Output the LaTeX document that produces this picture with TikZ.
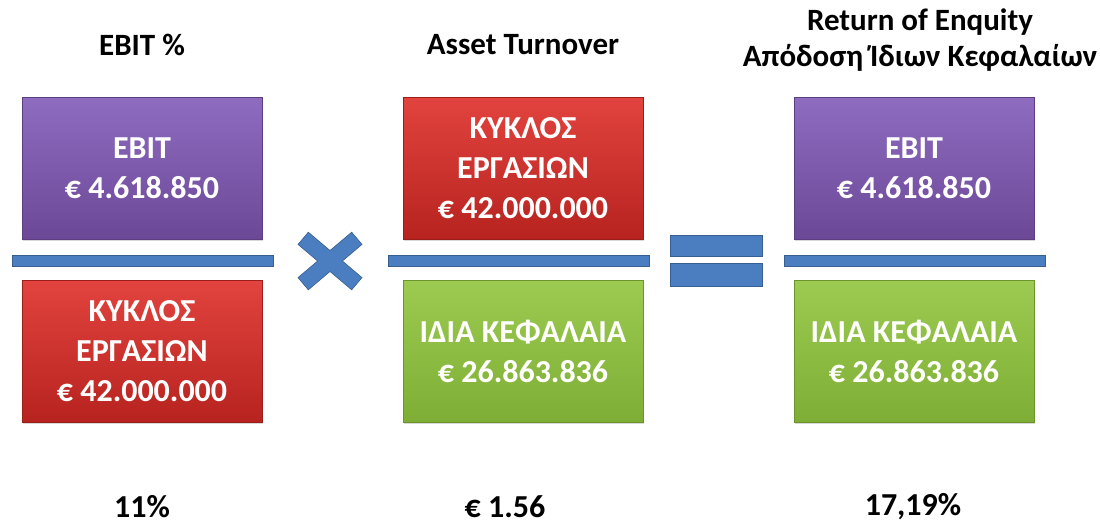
\documentclass[tikz,border=0pt]{standalone}
\usepackage{fontspec}
\setmainfont{Carlito}
\usetikzlibrary{positioning,shadows}

\definecolor{purpletop}{HTML}{8E6CC0}
\definecolor{purplebot}{HTML}{6C4897}
\definecolor{redtop}{HTML}{E2433E}
\definecolor{redbot}{HTML}{B7231F}
\definecolor{greentop}{HTML}{9DCB52}
\definecolor{greenbot}{HTML}{7EAE35}
\definecolor{barblue}{HTML}{4A7EC0}

\begin{document}
\begin{tikzpicture}[x=1pt, y=-1pt, node distance={183pt},
  box/.style = {minimum width=240pt, minimum height=142pt, inner sep=0pt, align=center, text=white,
    font=\fontsize{32}{40}\selectfont\bfseries, line width=0.6pt,
    drop shadow={opacity=0.3, shadow xshift=1pt, shadow yshift=-2pt}},
  purplebox/.style = {box, top color=purpletop, bottom color=purplebot, draw=purplebot!85!black},
  redbox/.style = {box, top color=redtop, bottom color=redbot, draw=redbot!85!black},
  greenbox/.style = {box, top color=greentop, bottom color=greenbot, draw=greenbot!85!black},
  bar/.style = {fill=barblue, draw=barblue!75!black, line width=0.6pt},
  title/.style = {font=\fontsize{31}{36}\selectfont\bfseries, align=center},
  result/.style = {font=\fontsize{32}{34}\selectfont\bfseries, inner sep=0pt}]
  \useasboundingbox (0,0) rectangle (1100,525);

  % titles
  \node[title] (t1) at (142,45) {EBIT \%};
  \node[title] (t2) at (523,45) {Asset Turnover};
  \node[title] (t3) at (920,40) {Return of Enquity\\Απόδοση Ίδιων Κεφαλαίων};

  % fractions
  \node[purplebox] (1) at (142,168) {EBIT\\€ 4.618.850};
  \node[redbox] (2) [below of=1] {ΚΥΚΛΟΣ\\ΕΡΓΑΣΙΩΝ\\€ 42.000.000};
  \node[redbox] (3) at (523,168) {ΚΥΚΛΟΣ\\ΕΡΓΑΣΙΩΝ\\€ 42.000.000};
  \node[greenbox] (4) [below of=3] {ΙΔΙΑ ΚΕΦΑΛΑΙΑ\\€ 26.863.836};
  \node[purplebox] (5) at (914,168) {EBIT\\€ 4.618.850};
  \node[greenbox] (6) [below of=5] {ΙΔΙΑ ΚΕΦΑΛΑΙΑ\\€ 26.863.836};

  \draw[bar] (12,255) rectangle (273,266);
  \draw[bar] (388,255) rectangle (649,266);
  \draw[bar] (784,255) rectangle (1045,266);

  % times and equals
  \draw[bar, shift={(330,261)}] (12.4,0) -- (32,16.6) -- (21.7,28.8) -- (0,10.5) -- (-21.7,28.8)
    -- (-32,16.6) -- (-12.4,0) -- (-32,-16.6) -- (-21.7,-28.8) -- (0,-10.5) -- (21.7,-28.8)
    -- (32,-16.6) -- cycle;
  \draw[bar] (670,235) rectangle (762,256);
  \draw[bar] (670,263) rectangle (762,286);

  % results
  \node[result] (r1) at (142,507) {11\%};
  \node[result] (r2) at (505,507) {€ 1.56};
  \node[result] (r3) at (913,507) {17,19\%};
\end{tikzpicture}
\end{document}
